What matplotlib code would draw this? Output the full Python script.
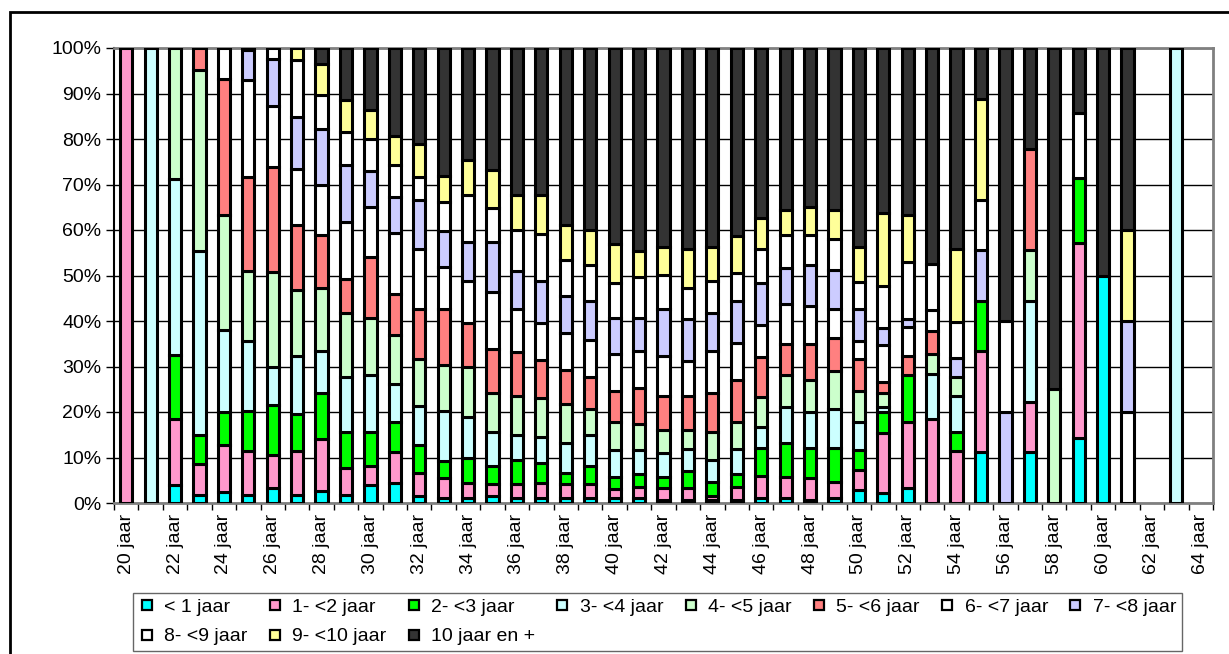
import numpy as np
import matplotlib
matplotlib.use("Agg")
import matplotlib.pyplot as plt
from matplotlib.lines import Line2D
from matplotlib.patches import Rectangle

plt.rcParams['font.family'] = ['Liberation Sans', 'DejaVu Sans']

ages = [f"{a} jaar" for a in range(20, 65)]

categories = ["< 1 jaar", "1- <2 jaar", "2- <3 jaar", "3- <4 jaar", "4- <5 jaar",
              "5- <6 jaar", "6- <7 jaar", "7- <8 jaar", "8- <9 jaar", "9- <10 jaar",
              "10 jaar en +"]
colors = ["#00FFFF", "#FF99CC", "#00FF00", "#CCFFFF", "#CCFFCC",
          "#FF8080", "#FFFFFF", "#CCCCFF", "#FFFFFF", "#FFFF99", "#333333"]

# percentages per age (20..64) for each category
lt1 = [0, 0, 4.0, 1.7, 2.4, 1.7, 3.2, 1.7, 2.6, 1.7, 4.0, 4.3, 1.5, 1.1, 1.1, 1.5, 1.1, 1.1, 1.1, 1.1,
       1.1, 1.1, 0.6, 0.6, 0.6, 0.6, 1.1, 1.1, 0.6, 1.1, 2.9, 2.2, 3.2, 0, 0, 11.1, 0, 11.1, 0, 14.3,
       50, 0, 0, 0, 0]
y1_2 = [100, 0, 14.4, 6.8, 10.3, 9.7, 7.3, 9.7, 11.5, 5.9, 4.1, 6.8, 5.0, 4.3, 3.4, 2.6, 3.0, 3.4, 3.0, 3.0,
        1.9, 2.4, 2.6, 2.6, 0.9, 2.9, 4.8, 4.6, 4.8, 3.5, 4.3, 13.1, 14.7, 18.4, 11.4, 22.2, 0, 11.1, 0, 42.9,
        0, 0, 0, 0, 0]
y2_3 = [0, 0, 14.2, 6.5, 7.2, 8.9, 11.1, 8.2, 10.1, 8.1, 7.4, 6.8, 6.2, 3.8, 5.3, 4.0, 5.3, 4.3, 2.4, 4.0,
        2.7, 2.8, 2.5, 3.8, 3.1, 2.8, 6.1, 7.4, 6.6, 7.4, 4.4, 4.8, 10.3, 0, 4.1, 11.1, 0, 0, 0, 14.3,
        0, 0, 0, 0, 0]
y3_4 = [0, 100, 38.5, 40.3, 18.1, 15.3, 8.4, 12.7, 9.2, 12.1, 12.7, 8.2, 8.7, 11.1, 9.2, 7.6, 5.5, 5.8, 6.6, 6.8,
        5.9, 5.3, 5.2, 4.8, 4.8, 5.5, 4.8, 8.1, 8.1, 8.6, 6.3, 1.0, 0, 10.0, 8.1, 0, 0, 22.2, 0, 0,
        0, 0, 0, 100, 0]
y4_5 = [0, 0, 28.9, 39.9, 25.2, 15.4, 20.7, 14.5, 13.9, 14.0, 12.5, 10.8, 10.3, 10.1, 11.0, 8.5, 8.7, 8.4, 8.6, 5.7,
        6.3, 5.7, 5.2, 4.3, 6.3, 6.1, 6.6, 7.0, 7.0, 8.5, 6.8, 3.1, 0, 4.4, 4.0, 0, 0, 11.1, 25, 0,
        0, 0, 0, 0, 0]
y5_6 = [0, 0, 0, 4.8, 30.0, 20.6, 23.2, 14.2, 11.5, 7.4, 13.3, 9.0, 10.9, 12.2, 9.6, 9.7, 9.6, 8.5, 7.6, 7.0,
        6.8, 8.0, 7.5, 7.5, 8.5, 9.2, 8.6, 6.8, 7.9, 7.1, 7.0, 2.5, 4.1, 5.1, 0, 0, 0, 22.2, 0, 0,
        0, 0, 0, 0, 0]
y6_7 = [0, 0, 0, 0, 6.8, 21.4, 13.4, 12.5, 11.0, 12.5, 11.0, 13.4, 13.2, 9.2, 9.2, 12.5, 9.4, 8.1, 8.1, 8.3,
        8.1, 8.1, 8.7, 7.5, 9.2, 8.1, 7.1, 8.8, 8.3, 6.4, 3.9, 8.1, 6.4, 4.5, 0, 0, 0, 0, 0, 14.3,
        0, 20, 0, 0, 0]
y7_8 = [0, 0, 0, 0, 0, 6.5, 10.3, 11.3, 12.5, 12.5, 8.0, 7.9, 10.8, 7.9, 8.5, 10.9, 8.4, 9.2, 8.1, 8.5,
        7.8, 7.3, 10.3, 9.3, 8.4, 9.1, 9.2, 7.8, 9.0, 8.6, 7.0, 3.7, 1.7, 0, 4.3, 11.1, 20, 0, 0, 0,
        0, 20, 0, 0, 0]
y8_9 = [0, 0, 0, 0, 0, 0.5, 2.4, 12.5, 7.4, 7.4, 6.9, 7.0, 5.0, 6.4, 10.4, 7.5, 8.9, 10.3, 7.9, 7.9,
        7.7, 8.9, 7.5, 6.9, 7.0, 6.2, 7.5, 7.3, 6.5, 6.8, 5.9, 9.2, 12.6, 10.1, 7.9, 11.1, 20, 0, 0, 0,
        0, 0, 0, 0, 0]
y9_10 = [0, 0, 0, 0, 0, 0, 0, 2.7, 6.8, 7.0, 6.5, 6.4, 7.4, 5.8, 7.6, 8.3, 7.8, 8.7, 7.6, 7.6,
         8.6, 5.7, 6.2, 8.5, 7.5, 8.1, 6.8, 5.4, 6.2, 6.3, 7.8, 16.0, 10.2, 0, 16.0, 22.2, 0, 0, 0, 0,
         0, 20, 0, 0, 0]
y10p = [0, 0, 0, 0, 0, 0, 0, 0, 3.5, 11.4, 13.6, 19.4, 21.0, 28.1, 24.7, 26.9, 32.3, 32.2, 39.0, 40.1,
        43.1, 44.7, 43.7, 44.2, 43.7, 41.4, 37.4, 35.7, 35.0, 35.7, 43.7, 36.3, 36.8, 47.5, 44.2, 11.2, 60, 22.3, 75, 14.2,
        50, 40, 0, 0, 0]

series = [lt1, y1_2, y2_3, y3_4, y4_5, y5_6, y6_7, y7_8, y8_9, y9_10, y10p]

fig = plt.figure(figsize=(12.29, 6.54), dpi=100)
W, H = 1229, 654
ax = fig.add_axes([114 / W, 1 - 503 / H, (1213 - 114) / W, (503 - 48) / H])

x = np.arange(len(ages))
bottom = np.zeros(len(ages))
for vals, col, lab in zip(series, colors, categories):
    v = np.array(vals, dtype=float)
    m = v > 0
    ax.bar(x[m], v[m], bottom=bottom[m], width=0.5, color=col,
           edgecolor='black', linewidth=2.2, zorder=3)
    bottom += v

ax.set_xlim(-0.5, len(ages) - 0.5)
ax.set_ylim(0, 100)
ax.set_yticks(np.arange(0, 101, 10))
ax.set_yticklabels([f"{v}%" for v in range(0, 101, 10)], fontsize=14)
ax.yaxis.grid(True, color='black', linewidth=1)
ax.set_axisbelow(True)
ax.tick_params(axis='y', length=6, width=1, color='black', pad=3)

ax.set_xticks(np.arange(-0.5, len(ages), 1))
ax.set_xticklabels([])
ax.tick_params(axis='x', which='major', length=5, width=1, color='black')
ax.set_xticks(x[::2], minor=True)
ax.set_xticklabels(ages[::2], minor=True, rotation=90, fontsize=14)
ax.tick_params(axis='x', which='minor', length=0, pad=8)

for s in ['top', 'right', 'bottom']:
    ax.spines[s].set_color('#808080')
    ax.spines[s].set_linewidth(2)
ax.spines['left'].set_color('black')
ax.spines['left'].set_linewidth(1.5)

handles = [Line2D([], [], linestyle='none', marker='s', markersize=7,
                  markerfacecolor=c, markeredgecolor='black', markeredgewidth=1.6)
           for c in colors]
# reorder so the legend reads row by row (8 per row)
order = [0, 8, 1, 9, 2, 10, 3, 4, 5, 6, 7]
leg = fig.legend([handles[i] for i in order], [categories[i] for i in order],
                 ncol=8, loc='center',
                 bbox_to_anchor=(133 / W, 1 - 653 / H, (1182 - 133) / W, 62 / H),
                 mode='expand', fontsize=14, frameon=True, fancybox=False,
                 handlelength=0.8, handletextpad=0.5, labelspacing=0.6,
                 borderpad=0.3, borderaxespad=0)
leg.get_frame().set_edgecolor('#404040')
leg.get_frame().set_linewidth(1)

fig.patches.append(Rectangle((10 / W, -0.1), 1.2, 1.1 - 12 / H, transform=fig.transFigure,
                             fill=False, edgecolor='black', linewidth=2))

fig.savefig("out.png", dpi=100)
